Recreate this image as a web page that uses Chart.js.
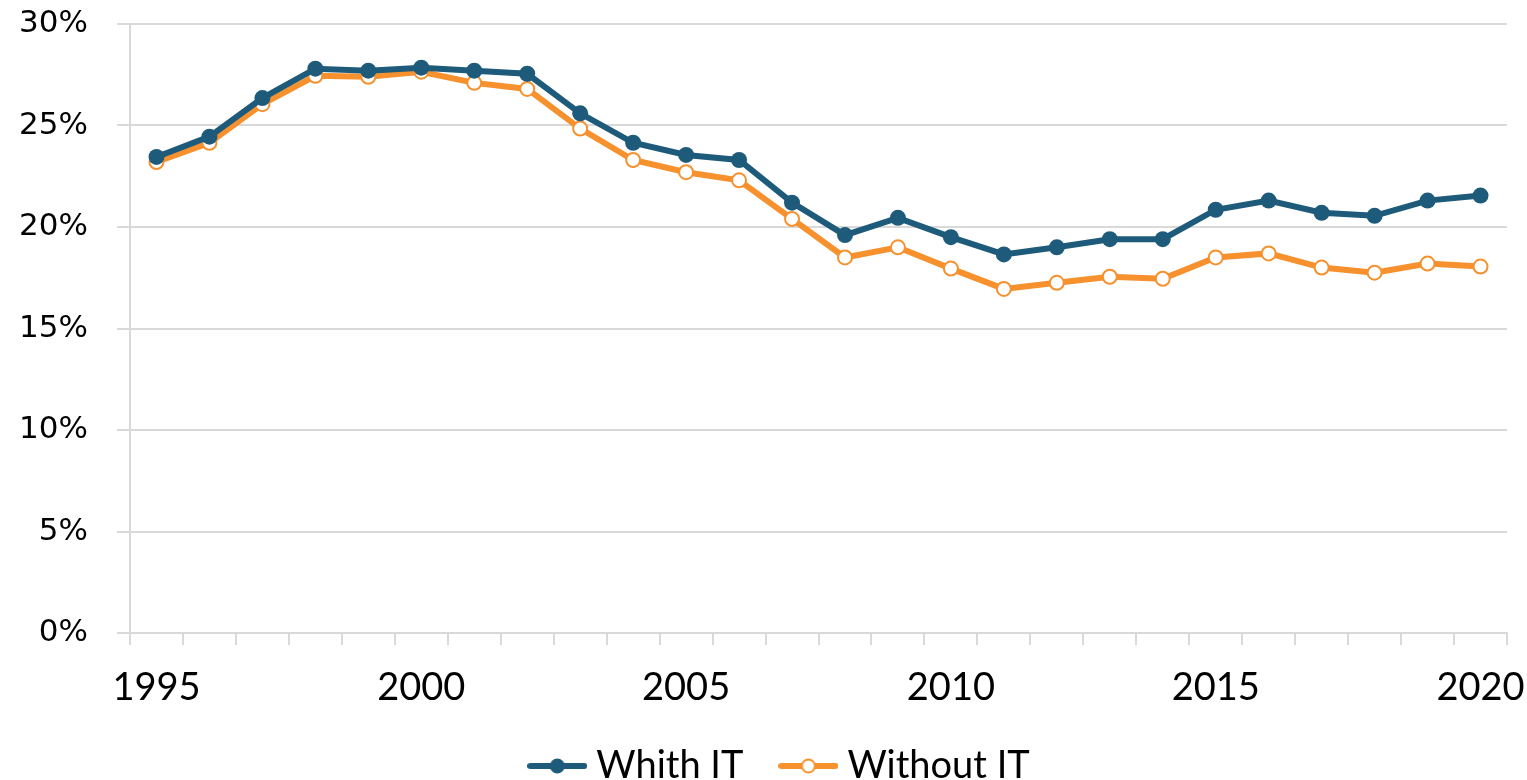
<!DOCTYPE html>
<html>
<head>
<meta charset="utf-8">
<script src="https://cdn.jsdelivr.net/npm/chart.js@4.4.1/dist/chart.umd.min.js"></script>
<style>
  html, body { margin: 0; padding: 0; background: #fff; }
  #wrap { width: 1527px; height: 780px; }
</style>
</head>
<body>
<div id="wrap"><canvas id="myChart"></canvas></div>
<script>
let years = ['1995','1996','1997','1998','1999','2000','2001','2002','2003','2004',
    '2005','2006','2007','2008','2009','2010','2011','2012','2013','2014',
    '2015','2016','2017','2018','2019','2020'];

let withIT = [23.45, 24.45, 26.35, 27.8, 27.7, 27.85, 27.7, 27.55, 25.6, 24.15,
    23.55, 23.3, 21.2, 19.6, 20.45, 19.5, 18.65, 19.0, 19.4, 19.4,
    20.85, 21.3, 20.7, 20.55, 21.3, 21.55];

let withoutIT = [23.2, 24.15, 26.05, 27.45, 27.4, 27.65, 27.1, 26.8, 24.85, 23.3,
    22.7, 22.3, 20.4, 18.5, 19.0, 17.95, 16.95, 17.25, 17.55, 17.45,
    18.5, 18.7, 18.0, 17.75, 18.2, 18.05];

let seriesNames = ['Whith IT', 'Without IT'];

const BLUE = '#1e5b7b';
const ORANGE = '#f6912e';
const GRID = '#d9d9d9';

function legendIcon(color, filled) {
    let c = document.createElement('canvas');
    c.width = 60; c.height = 18;
    let ctx = c.getContext('2d');
    ctx.strokeStyle = color;
    ctx.lineWidth = 6;
    ctx.lineCap = 'round';
    ctx.beginPath();
    ctx.moveTo(3, 9); ctx.lineTo(57, 9);
    ctx.stroke();
    ctx.beginPath();
    ctx.arc(30, 9, 6.5, 0, Math.PI * 2);
    ctx.fillStyle = filled ? color : '#fff';
    ctx.fill();
    ctx.lineWidth = 2;
    ctx.stroke();
    return c;
}
const icons = [legendIcon(BLUE, true), legendIcon(ORANGE, false)];

// keep the plot box where the original has it
function noPad(axis) {
    axis.paddingLeft = 0;
    axis.paddingRight = 0;
    axis.paddingTop = 0;
    axis.paddingBottom = 0;
}

// legend in the original sits a little right of the canvas centre
const legendShift = {
    id: 'legendShift',
    afterLayout: function(chart) {
        if (chart.legend) chart.legend.left = 60;
    }
};

let chartElement = document.getElementById('myChart').getContext('2d');

let myChart = new Chart(chartElement, {
    type: 'line',
    data: {
        labels: years,
        datasets: [{
            label: seriesNames[0],
            data: withIT,
            borderColor: BLUE,
            backgroundColor: BLUE,
            borderWidth: 6,
            pointRadius: 8,
            pointBorderWidth: 0,
            pointBackgroundColor: BLUE,
            tension: 0
        }, {
            label: seriesNames[1],
            data: withoutIT,
            borderColor: ORANGE,
            backgroundColor: '#fff',
            borderWidth: 6,
            pointRadius: 7,
            pointBorderWidth: 2,
            pointBorderColor: ORANGE,
            pointBackgroundColor: '#fff',
            tension: 0
        }]
    },
    plugins: [legendShift],
    options: {
        responsive: true,
        maintainAspectRatio: false,
        animation: false,
        layout: { padding: { left: 0, right: 20, top: 24, bottom: -15 } },
        plugins: {
            tooltip: { enabled: false },
            legend: {
                position: 'bottom',
                labels: {
                    usePointStyle: true,
                    pointStyleWidth: 40,
                    padding: 45,
                    color: '#000',
                    font: { family: 'Lato', size: 38 },
                    generateLabels: function(chart) {
                        return chart.data.datasets.map(function(ds, i) {
                            return {
                                text: ds.label,
                                pointStyle: icons[i],
                                datasetIndex: i,
                                fontColor: '#000',
                                lineWidth: 0,
                                strokeStyle: 'transparent',
                                fillStyle: 'transparent'
                            };
                        });
                    }
                }
            }
        },
        scales: {
            x: {
                offset: true,
                border: { color: GRID, width: 2 },
                grid: {
                    offset: true,
                    drawOnChartArea: false,
                    drawTicks: true,
                    tickLength: 12,
                    color: GRID,
                    lineWidth: 2
                },
                afterFit: function(axis) { axis.height = 69; noPad(axis); },
                ticks: {
                    autoSkip: false,
                    maxRotation: 0,
                    padding: 20,
                    color: '#000',
                    font: { family: 'Lato', size: 38 },
                    callback: function(value, index) {
                        let y = years[index];
                        return Number(y) % 5 === 0 ? y : '';
                    }
                }
            },
            y: {
                min: 0,
                max: 30,
                border: { color: GRID, width: 2 },
                grid: {
                    color: GRID,
                    lineWidth: 2,
                    tickLength: 13
                },
                afterFit: function(axis) { axis.width = 130; noPad(axis); },
                ticks: {
                    stepSize: 5,
                    padding: 29,
                    color: '#000',
                    font: { family: 'DejaVu Sans', size: 31 },
                    callback: function(v) { return v + '%'; }
                }
            }
        }
    }
});
</script>
</body>
</html>
